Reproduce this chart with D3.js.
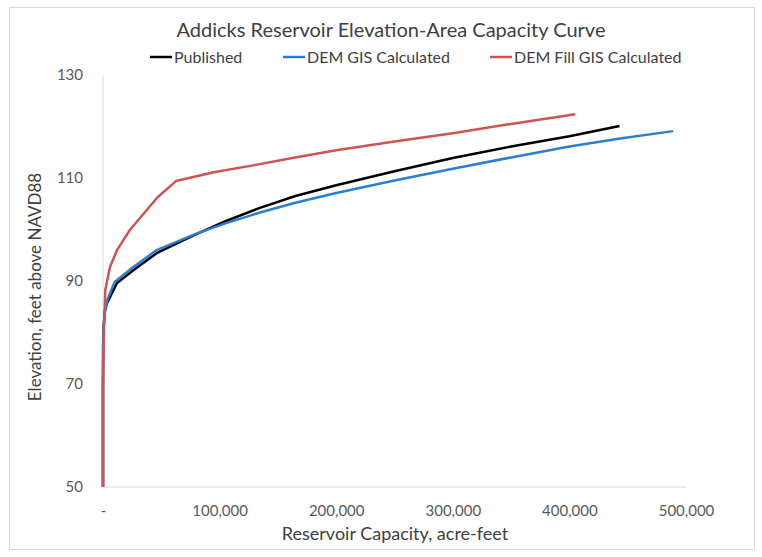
<!DOCTYPE html>
<html><head><meta charset="utf-8">
<script src="https://cdn.jsdelivr.net/npm/d3@7"></script>
<style>body{margin:0;background:#fff;} text{font-family:Lato,"Open Sans",sans-serif;}</style>
</head><body>
<svg id="c" width="762" height="557"></svg>
<script>
const title = "Addicks Reservoir Elevation-Area Capacity Curve";
const seriesNames = ["Published", "DEM GIS Calculated", "DEM Fill GIS Calculated"];
const seriesColors = ["#000000", "#2a7fd0", "#cc5452"];
// capacity (acre-feet), elevation (feet)
const publishedCap  = [0, 0, 200, 1500, 3400, 12000, 26000, 46000, 66000, 80000, 105000, 134600, 165000, 200000, 250000, 300000, 350000, 400000, 443000];
const publishedElev = [50, 70, 80, 84, 85.7, 89.6, 92.1, 95.4, 97.6, 99.1, 101.6, 104.2, 106.5, 108.6, 111.3, 113.9, 116.1, 118.1, 120.1];
const demCap  = [0, 0, 200, 1500, 4000, 10000, 26000, 46000, 80000, 105000, 134600, 165000, 200000, 250000, 300000, 350000, 400000, 445000, 489000];
const demElev = [50, 70, 80, 84, 86.5, 89.8, 92.7, 96.0, 99.2, 101.2, 103.3, 105.2, 107.1, 109.5, 111.8, 114.0, 116.1, 117.7, 119.1];
const fillCap  = [0, 0, 300, 2000, 6000, 12000, 23000, 47000, 62600, 95000, 130000, 160000, 200000, 250000, 300000, 350000, 405000];
const fillElev = [50, 70, 77, 88.3, 92.7, 96.0, 99.9, 106.3, 109.4, 111.1, 112.5, 113.8, 115.4, 117.1, 118.7, 120.5, 122.4];
const xTicks = [0, 100000, 200000, 300000, 400000, 500000];
const yTicks = [50, 70, 90, 110, 130];

const svg = d3.select("#c");
svg.append("rect").attr("x",9.5).attr("y",7.5).attr("width",745).attr("height",542)
  .attr("fill","none").attr("stroke","#d9d9d9");

const x = d3.scaleLinear().domain([0,500000]).range([103,686]);
const y = d3.scaleLinear().domain([50,130]).range([487,75]);

// axes lines
svg.append("line").attr("x1",x(0)).attr("x2",x(0)).attr("y1",y(130)).attr("y2",y(50)).attr("stroke","#d9d9d9");
svg.append("line").attr("x1",x(0)).attr("x2",x(500000)).attr("y1",y(50)).attr("y2",y(50)).attr("stroke","#d9d9d9");

const fmt = d => d === 0 ? "-" : d3.format(",")(d);
const xAxis = d3.axisBottom(x).tickValues(xTicks).tickFormat(fmt).tickSize(0).tickPadding(18);
const gx = svg.append("g").attr("transform",`translate(0,${y(50)})`).call(xAxis);
gx.select(".domain").remove();
gx.selectAll("text").attr("fill","#595959").style("font-size","15px").style("font-family","Lato");

const yAxis = d3.axisLeft(y).tickValues(yTicks).tickSize(0).tickPadding(20);
const gy = svg.append("g").attr("transform",`translate(${x(0)},0)`).call(yAxis);
gy.select(".domain").remove();
gy.selectAll("text").attr("fill","#595959").style("font-size","15px").style("font-family","Lato");

const line = d3.line().x(d=>x(d[0])).y(d=>y(d[1]));
const data = [
  d3.zip(publishedCap, publishedElev),
  d3.zip(demCap, demElev),
  d3.zip(fillCap, fillElev)
];
data.forEach((d,i)=>{
  svg.append("path").datum(d).attr("d",line).attr("fill","none")
    .attr("stroke",seriesColors[i]).attr("stroke-width",2.5).attr("stroke-linejoin","round");
});

// title
svg.append("text").attr("x",391).attr("y",37).attr("text-anchor","middle")
  .attr("fill","#404040").style("font-size","20px").text(title);

// legend
const legX = [150, 283, 490];
seriesNames.forEach((n,i)=>{
  svg.append("line").attr("x1",legX[i]).attr("x2",legX[i]+22).attr("y1",57).attr("y2",57)
    .attr("stroke",seriesColors[i]).attr("stroke-width",2.5);
  svg.append("text").attr("x",legX[i]+24).attr("y",63).attr("fill","#404040")
    .style("font-size","16px").text(n);
});

// axis titles
svg.append("text").attr("x",395).attr("y",540).attr("text-anchor","middle")
  .attr("fill","#404040").style("font-size","18px").text("Reservoir Capacity, acre-feet");
svg.append("text").attr("transform","translate(41,287) rotate(-90)").attr("text-anchor","middle")
  .attr("fill","#404040").style("font-size","17px").text("Elevation, feet above NAVD88");
</script>
</body></html>
